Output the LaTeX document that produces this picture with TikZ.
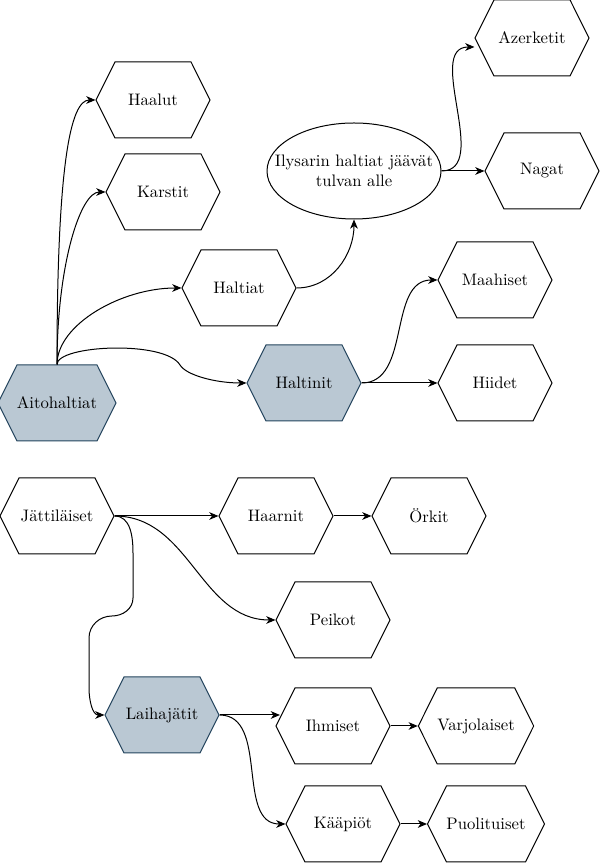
\documentclass[tikz,border=0pt]{standalone}
\usepackage{tikz}
\usetikzlibrary{arrows,arrows.meta,shapes.symbols,shapes.geometric}
\definecolor{keyfill}{HTML}{BAC8D3}
\definecolor{keyline}{HTML}{23445D}
\tikzset{
  hexbox/.style={
    shape=signal, signal to=east and west, signal pointer angle=127,
    draw, fill=white, line width=0.6pt, inner sep=0pt,
    minimum width=68.4pt, minimum height=45.6pt},
  key hex/.style={hexbox, fill=keyfill, draw=keyline},
  oval/.style={ellipse, draw, line width=0.6pt, inner xsep=-11pt, inner ysep=0pt, align=center,
    minimum width=104.4pt, minimum height=57.6pt},
  link/.style={-{Stealth[length=5.5pt,width=4.6pt,inset=1.6pt]}, line width=0.6pt},
  }

\begin{document}
\begin{tikzpicture}[x=0.6pt,y=0.6pt]
            \useasboundingbox (0,0) rectangle (600,863);

            % Elves
            \node[key hex] (ait)      at (57,460)  {Aitohaltiat};
            \node[hexbox]  (haalut)   at (153,763) {Haalut};
            \node[hexbox]  (karstit)  at (163,671) {Karstit};
            \node[hexbox]  (haltiat)  at (239,575) {Haltiat};
            \node[key hex] (haltinit) at (304,480) {Haltinit};
            \node[oval]    (ilys)     at (354,692) {Ilysarin haltiat jäävät\\tulvan alle};
            \node[hexbox]  (azer)     at (532,825) {Azerketit};
            \node[hexbox]  (nagat)    at (542,692) {Nagat};
            \node[hexbox]  (maah)     at (495,583) {Maahiset};
            \node[hexbox]  (hiidet)   at (495,480) {Hiidet};

            % Giants
            \node[hexbox]  (jatt)     at (57,347)  {Jättiläiset};
            \node[hexbox]  (haarnit)  at (276,347) {Haarnit};
            \node[hexbox]  (orkit)    at (429,347) {Örkit};
            \node[hexbox]  (peikot)   at (333,243) {Peikot};
            \node[key hex] (laiha)    at (162,148) {Laihajätit};
            \node[hexbox]  (ihmiset)  at (333,137) {Ihmiset};
            \node[hexbox]  (varjo)    at (476,137) {Varjolaiset};
            \node[hexbox]  (kaapiot)  at (343,39)  {Kääpiöt};
            \node[hexbox]  (puoli)    at (486,39)  {Puolituiset};

            % Arrows
            \draw[link] (ait.north) to[out=90,in=180,out distance=120pt,in distance=15pt] (haalut.west);
            \draw[link] (ait.north) to[out=90,in=180,out distance=60pt,in distance=15pt] (karstit.west);
            \draw[link] (ait.north) to[out=90,in=180,out distance=24pt,in distance=36pt] (haltiat.west);
            \draw[link] (ait.north) .. controls (57,518) and (165,523) .. (180,498)
                        .. controls (186,488) and (215,480) .. (haltinit.west);
            \draw[link] (haltiat.east) to[out=0,in=-90] (ilys.south);
            \draw[link] (ilys.east) to[out=0,in=180] ([yshift=-5.4pt]azer.west);
            \draw[link] (ilys.east) -- (nagat.west);
            \draw[link] (haltinit.east) to[out=0,in=180] (maah.west);
            \draw[link] (haltinit.east) -- (hiidet.west);

            \draw[link] (jatt.east) -- (haarnit.west);
            \draw[link] (haarnit.east) -- (orkit.west);
            \draw[link] (jatt.east) to[out=0,in=180] (peikot.west);
            \draw[link] (jatt.east) to[out=0,in=90] (133,310) -- (133,265) to[out=-90,in=0] (112,247)
                        to[out=180,in=90] (89,225) -- (89,175) to[out=-90,in=180] (laiha.west);
            \draw[link] (laiha.east) -- ([xshift=2.7pt]laiha.east -| ihmiset.west);
            \draw[link] (laiha.east) to[out=0,in=180] (kaapiot.west);
            \draw[link] (ihmiset.east) -- (varjo.west);
            \draw[link] (kaapiot.east) -- (puoli.west);
        \end{tikzpicture}
\end{document}
